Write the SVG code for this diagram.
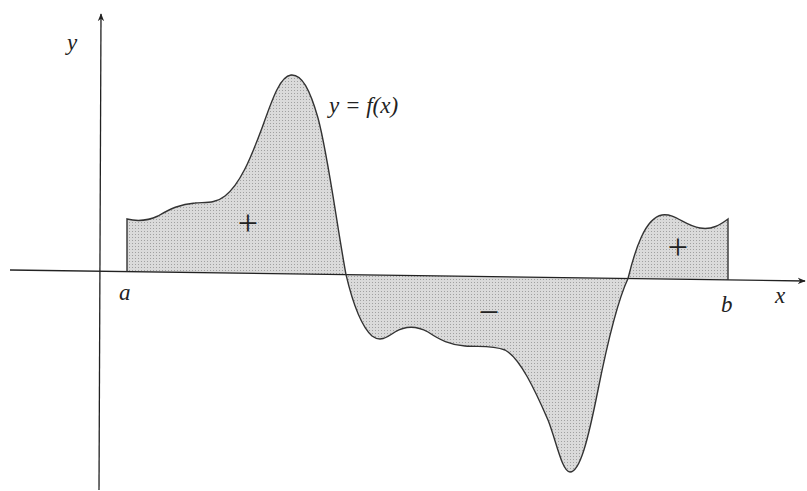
<svg xmlns="http://www.w3.org/2000/svg" width="807" height="491" viewBox="0 0 807 491">
  <defs>
    <pattern id="dots" width="3" height="3" patternUnits="userSpaceOnUse">
      <rect width="3" height="3" fill="#dadada"/>
      <rect width="1" height="1" fill="#a0a0a0"/>
    </pattern>
    <marker id="arr" viewBox="0 0 10 10" refX="9" refY="5" markerWidth="8" markerHeight="8" orient="auto" markerUnits="userSpaceOnUse">
      <path d="M0,1 L10,5 L0,9 L3,5 Z" fill="#222"/>
    </marker>
  </defs>
  <rect width="807" height="491" fill="#fff"/>
  <g id="area">
    <path fill="url(#dots)" stroke="none" d="M127,271.6 L127,219 C135,221 145,222 158,216 C170,209 180,204 195,203 C205,202 215,204 225,196 C240,184 250,160 262,128 C272,100 280,76 291,75 C302,74 310,90 318,118 C328,155 336,220 346,274.6 C352,300 360,325 372,336 C380,342 386,338 395,332 C405,326 415,325 428,332 C440,340 450,345 465,346 C480,347 492,345 505,350 C520,358 535,390 548,420 C556,440 562,472 570,472 C580,472 588,440 598,390 C608,340 618,300 628,278.5 C635,250 645,218 662,215 C675,213 685,226 700,228 C712,230 720,225 728,219 L728,279.9 Z"/>
  </g>
  <g id="axes" stroke="#222" stroke-width="1.3" fill="none">
    <line x1="10" y1="270" x2="805" y2="281" marker-end="url(#arr)"/>
    <line x1="99" y1="490" x2="101" y2="14" marker-end="url(#arr)"/>
  </g>
  <g id="curve" stroke="#333" stroke-width="1.4" fill="none">
    <path d="M127,271.6 L127,219 C135,221 145,222 158,216 C170,209 180,204 195,203 C205,202 215,204 225,196 C240,184 250,160 262,128 C272,100 280,76 291,75 C302,74 310,90 318,118 C328,155 336,220 346,274.6 C352,300 360,325 372,336 C380,342 386,338 395,332 C405,326 415,325 428,332 C440,340 450,345 465,346 C480,347 492,345 505,350 C520,358 535,390 548,420 C556,440 562,472 570,472 C580,472 588,440 598,390 C608,340 618,300 628,278.5 C635,250 645,218 662,215 C675,213 685,226 700,228 C712,230 720,225 728,219 L728,279.9"/>
  </g>
  <g id="labels" font-family="Liberation Serif, serif" font-style="italic" font-size="23" fill="#222">
    <text x="67" y="50">y</text>
    <text x="119" y="300">a</text>
    <text x="721" y="312">b</text>
    <text x="775" y="303">x</text>
    <text x="329" y="113">y = f(x)</text>
  </g>
  <g id="signs" font-family="Liberation Serif, serif" font-size="36" fill="#222" text-anchor="middle">
    <text x="248" y="235">+</text>
    <text x="489" y="324">−</text>
    <text x="678" y="259">+</text>
  </g>
</svg>
